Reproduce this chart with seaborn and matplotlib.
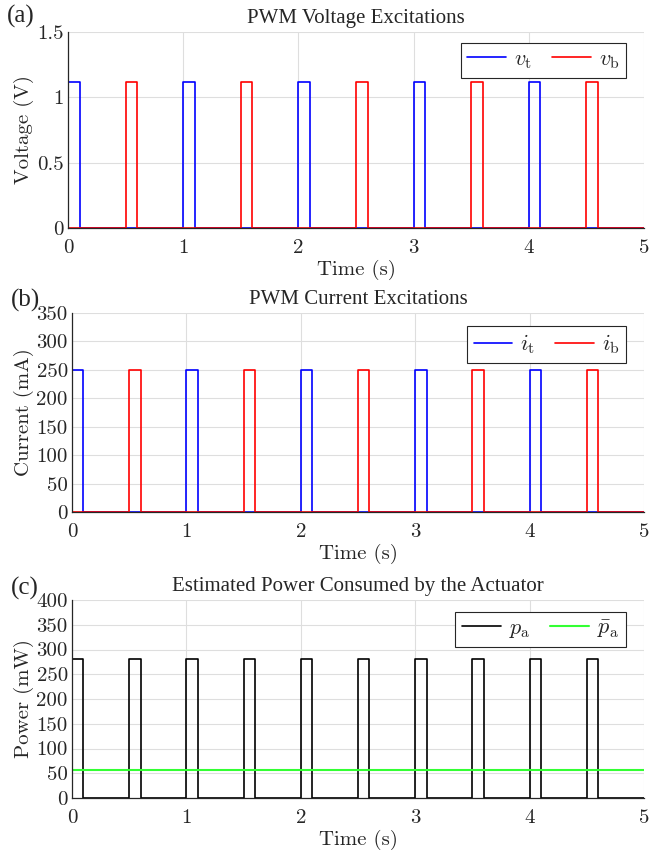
import numpy as np
import pandas as pd
import matplotlib
matplotlib.use("Agg")
import matplotlib.pyplot as plt
import seaborn as sns

# PWM excitation data
period = 1.0          # s
pulse_width = 0.1     # s
t_end = 5.0
top_starts = [0.0, 1.0, 2.0, 3.0, 4.0]
bottom_starts = [0.5, 1.5, 2.5, 3.5, 4.5]
v_amp = 1.12          # V
i_amp = 250.0         # mA
p_amp = 280.0         # mW
p_mean = 56.0         # mW


def pulse_train(starts, amp):
    t = [0.0]
    y = [0.0]
    for s in starts:
        t += [s, s, s + pulse_width, s + pulse_width]
        y += [0.0, amp, amp, 0.0]
    t.append(t_end)
    y.append(0.0)
    return pd.DataFrame({"t": t, "y": y})


sns.set_style("white")
plt.rcParams["mathtext.fontset"] = "cm"
plt.rcParams["font.family"] = ["Liberation Serif", "DejaVu Serif"]

fig = plt.figure(figsize=(6.49, 8.5), dpi=100)
W, H = 649, 850


def make_ax(left, top, right, bottom):
    return fig.add_axes([left / W, 1 - bottom / H, (right - left) / W, (bottom - top) / H])


tick_font = {"family": "cmr10", "size": 15}
label_font = {"family": "cmr10", "size": 15}


def style_ax(ax, yticks, ylabel, title, tag, tag_y):
    ax.set_xlim(0, 5)
    ax.set_ylim(yticks[0], yticks[-1])
    ax.set_xticks([0, 1, 2, 3, 4, 5])
    ax.set_xticklabels(["0", "1", "2", "3", "4", "5"], fontdict=tick_font)
    ax.set_yticks(yticks)
    ax.set_yticklabels([("%g" % v) for v in yticks], fontdict=tick_font)
    ax.grid(True, color="#dedede", linewidth=0.8)
    ax.set_axisbelow(True)
    for s in ["top", "right"]:
        ax.spines[s].set_visible(False)
    for s in ["left", "bottom"]:
        ax.spines[s].set_color("#262626")
        ax.spines[s].set_linewidth(0.9)
    ax.tick_params(direction="in", length=4, width=0.8, color="#262626")
    ax.tick_params(axis="x", pad=8)
    ax.tick_params(axis="y", pad=3)
    ax.set_xlabel("Time (s)", fontdict=label_font, labelpad=2)
    ax.set_ylabel(ylabel, fontdict=label_font, labelpad=2)
    ax.set_title(title, fontsize=15, pad=6.5)
    ax.text(-0.106, tag_y, tag, transform=ax.transAxes, fontsize=18,
            ha="left", va="center")


def add_legend(ax, y_anchor):
    leg = ax.legend(loc="upper right", ncol=2, fontsize=16, frameon=True,
                    fancybox=False, edgecolor="#262626", framealpha=1,
                    handlelength=1.75, handletextpad=0.35, columnspacing=0.9,
                    borderpad=0.3, borderaxespad=0,
                    bbox_to_anchor=(0.969, y_anchor))
    leg.get_frame().set_linewidth(0.8)


# (a) voltage
ax1 = make_ax(68, 32, 644, 228)
sns.lineplot(data=pulse_train(top_starts, v_amp), x="t", y="y", ax=ax1, color="#0000ff",
             linewidth=1.2, sort=False, estimator=None, label=r"$v_{\rm t}$")
sns.lineplot(data=pulse_train(bottom_starts, v_amp), x="t", y="y", ax=ax1, color="#ff0000",
             linewidth=1.2, sort=False, estimator=None, label=r"$v_{\rm b}$")
style_ax(ax1, [0, 0.5, 1, 1.5], "Voltage (V)", "PWM Voltage Excitations", "(a)", 1.08)
add_legend(ax1, 0.944)

# (b) current
ax2 = make_ax(72, 313, 644, 512)
sns.lineplot(data=pulse_train(top_starts, i_amp), x="t", y="y", ax=ax2, color="#0000ff",
             linewidth=1.2, sort=False, estimator=None, label=r"$i_{\rm t}$")
sns.lineplot(data=pulse_train(bottom_starts, i_amp), x="t", y="y", ax=ax2, color="#ff0000",
             linewidth=1.2, sort=False, estimator=None, label=r"$i_{\rm b}$")
style_ax(ax2, [0, 50, 100, 150, 200, 250, 300, 350], "Current (mA)",
         "PWM Current Excitations", "(b)", 1.065)
add_legend(ax2, 0.935)

# (c) power
ax3 = make_ax(72, 600, 644, 798)
sns.lineplot(data=pulse_train(sorted(top_starts + bottom_starts), p_amp), x="t", y="y",
             ax=ax3, color="black", linewidth=1.2, sort=False, estimator=None,
             label=r"$p_{\rm a}$")
sns.lineplot(x=[0, t_end], y=[p_mean, p_mean], ax=ax3, color="#33ff33", linewidth=1.5,
             label=r"$\bar{p}_{\rm a}$")
style_ax(ax3, [0, 50, 100, 150, 200, 250, 300, 350, 400], "Power (mW)",
         "Estimated Power Consumed by the Actuator", "(c)", 1.06)
add_legend(ax3, 0.94)

fig.savefig("out.png", dpi=100)
